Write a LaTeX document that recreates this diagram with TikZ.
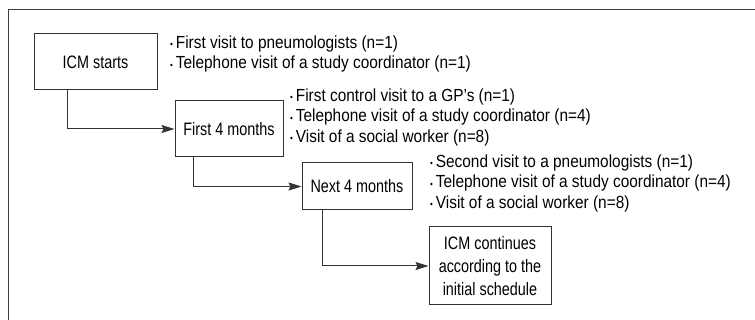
\documentclass[tikz,border=0pt]{standalone}
\usepackage{fontspec}
\setmainfont{Liberation Sans}[FakeStretch=0.88]
\newfontfamily\stagefont{Liberation Sans}[FakeStretch=0.8]
\usepackage{tikz}
\usetikzlibrary{arrows.meta,positioning}

\tikzset{
  stagebox/.style={draw=black!80,line width=1pt,align=center,
    inner sep=0pt,font=\stagefont\fontsize{18}{23}\selectfont},
  itemlist/.style={anchor=west,align=left,inner sep=0pt,
    font=\fontsize{17.5}{20.5}\selectfont},
  flow/.style={draw=black!80,line width=1pt,
    -{Stealth[length=13pt,width=8pt,inset=2pt]}}
}
\newcommand{\bul}{{\small\raisebox{0.1ex}{•}}\,}

\begin{document}
\begin{tikzpicture}[x=1pt,y=-1pt]%
  \useasboundingbox (0,0) rectangle (755,320);
  % outer frame (cut off at right and bottom)
  \draw[black!75,line width=1pt] (8,320) -- (8,10) -- (755,10);
  % stages
  \node[stagebox,minimum width=123pt,minimum height=56pt] (start) at (95.5,62) {ICM starts};
  \node[stagebox,minimum width=108pt,minimum height=56pt] (first) at (229,129) {First 4 months};
  \node[stagebox,minimum width=110pt,minimum height=47pt] (next) at (357,186.5) {Next 4 months};
  \node[stagebox,minimum width=122pt,minimum height=78pt] (cont) at (490,266)
    {ICM continues\\according to the\\initial schedule};
  % visits
  \node[itemlist] (visitsA) at (170,54) {\bul First visit to pneumologists (n=1)\\
    \bul Telephone visit of a study coordinator (n=1)};
  \node[itemlist] (visitsB) at (290,117) {\bul First control visit to a GP’s (n=1)\\
    \bul Telephone visit of a study coordinator (n=4)\\
    \bul Visit of a social worker (n=8)};
  \node[itemlist] (visitsC) at (430,183) {\bul Second visit to a pneumologists (n=1)\\
    \bul Telephone visit of a study coordinator (n=4)\\
    \bul Visit of a social worker (n=8)};
  % connectors
  \draw[flow] (start.south -| 67,0) |- (first.west);
  \draw[flow] (first.south -| 193,0) |- (next.west);
  \draw[flow] (next.south -| 322,0) |- (cont.west);
\end{tikzpicture}
\end{document}
